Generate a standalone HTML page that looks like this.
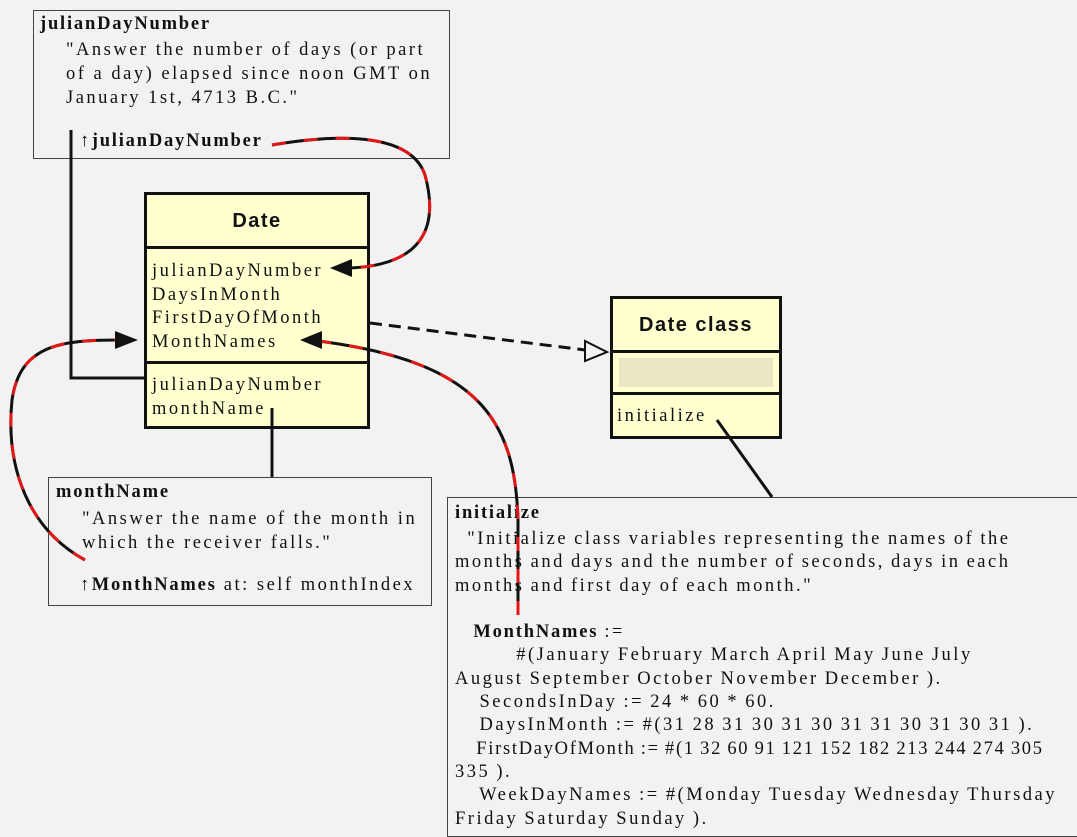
<!DOCTYPE html>
<html><head><style>
body{margin:0;width:1077px;height:821px;background:#f2f2f2;position:relative;overflow:hidden;font-family:"Liberation Serif",serif;font-size:18.5px;color:#111;letter-spacing:2.5px}
.t{position:absolute;white-space:pre;line-height:1}
.b{font-weight:bold;letter-spacing:1.8px}
b{letter-spacing:1.8px}
.box{position:absolute;box-sizing:border-box}
.s{font-family:"Liberation Sans",sans-serif;font-weight:bold;font-size:20px;letter-spacing:1.5px}
</style></head><body>
<div class="box" style="left:33px;top:10px;width:417px;height:149px;border:1px solid #444"></div>
<div class="t b" style="left:40px;top:15px">julianDayNumber</div>
<div class="t" style="left:66px;top:38px;line-height:24px">"Answer the number of days (or part
of a day) elapsed since noon GMT on
January 1st, 4713 B.C."</div>
<div class="t" style="left:80px;top:132px">↑<b>julianDayNumber</b></div>

<div class="box" style="left:144px;top:192px;width:226px;height:237px;border:3px solid #111;background:#ffffd0"></div>
<div class="box" style="left:144px;top:246px;width:226px;height:3px;background:#111"></div>
<div class="box" style="left:144px;top:361px;width:226px;height:3px;background:#111"></div>
<div class="t s" style="left:144px;width:226px;text-align:center;top:211px">Date</div>
<div class="t" style="left:152px;top:260px;line-height:23.5px">julianDayNumber
DaysInMonth
FirstDayOfMonth
MonthNames</div>
<div class="t" style="left:152px;top:374px;line-height:23.5px">julianDayNumber
monthName</div>

<div class="box" style="left:610px;top:296px;width:172px;height:143px;border:3px solid #111;background:#ffffd0"></div>
<div class="box" style="left:610px;top:350px;width:172px;height:3px;background:#111"></div>
<div class="box" style="left:610px;top:392px;width:172px;height:3px;background:#111"></div>
<div class="box" style="left:619px;top:358px;width:154px;height:29px;background:#ebe7c6"></div>
<div class="t s" style="left:610px;width:172px;text-align:center;top:315px">Date class</div>
<div class="t" style="left:617px;top:407px">initialize</div>

<div class="box" style="left:48px;top:477px;width:384px;height:129px;border:1px solid #444"></div>
<div class="t b" style="left:56px;top:483px">monthName</div>
<div class="t" style="left:82px;top:508px;line-height:23.5px">"Answer the name of the month in
which the receiver falls."</div>
<div class="t" style="left:80px;top:576px">↑<b>MonthNames</b> at: self monthIndex</div>

<div class="box" style="left:447px;top:497px;width:640px;height:340px;border:1px solid #444"></div>
<div class="t b" style="left:455px;top:504px">initialize</div>
<div class="t" style="left:455px;top:528px;line-height:23.3px;word-spacing:-1px">  "Initialize class variables representing the names of the
months and days and the number of seconds, days in each
months and first day of each month."

   <b>MonthNames</b> :=
          #(January February March April May June July
August September October November December ).
    SecondsInDay := 24 * 60 * 60.
    DaysInMonth := #(31 28 31 30 31 30 31 31 30 31 30 31 ).
<span style="letter-spacing:1.7px">    FirstDayOfMonth := #(1 32 60 91 121 152 182 213 244 274 305</span>
335 ).
    WeekDayNames := #(Monday Tuesday Wednesday Thursday
Friday Saturday Sunday ).</div>

<svg width="1077" height="821" style="position:absolute;left:0;top:0">
<g fill="none" stroke-width="3">
<polyline points="71,130 71,378 144,378" stroke="#111"/>
<line x1="272" y1="408" x2="272" y2="477" stroke="#111"/>
<line x1="717" y1="420" x2="772" y2="497" stroke="#111"/>
<line x1="370" y1="323" x2="585" y2="350" stroke="#111" stroke-dasharray="12,7"/>
<path d="M272,145 C330,135 410,130 425,175 C440,230 420,265 350,268" stroke="#111"/>
<path d="M518,615 L518,520 C515,420 480,360 310,340" stroke="#111"/>
<path d="M85,560 C30,530 5,470 12,400 C20,345 60,340 120,340" stroke="#111"/>
<g stroke="#e01818" stroke-dasharray="14,18">
<path d="M272,145 C330,135 410,130 425,175 C440,230 420,265 350,268"/>
<path d="M518,615 L518,520 C515,420 480,360 310,340"/>
<path d="M85,560 C30,530 5,470 12,400 C20,345 60,340 120,340"/>
</g>
</g>
<polygon points="330,268 352,259 352,277" fill="#111"/>
<polygon points="300,340 322,331 322,349" fill="#111"/>
<polygon points="138,340 115,331 115,349" fill="#111"/>
<polygon points="607,352 585,341 585,361" fill="#f2f2f2" stroke="#111" stroke-width="2"/>
</svg>
</body></html>
